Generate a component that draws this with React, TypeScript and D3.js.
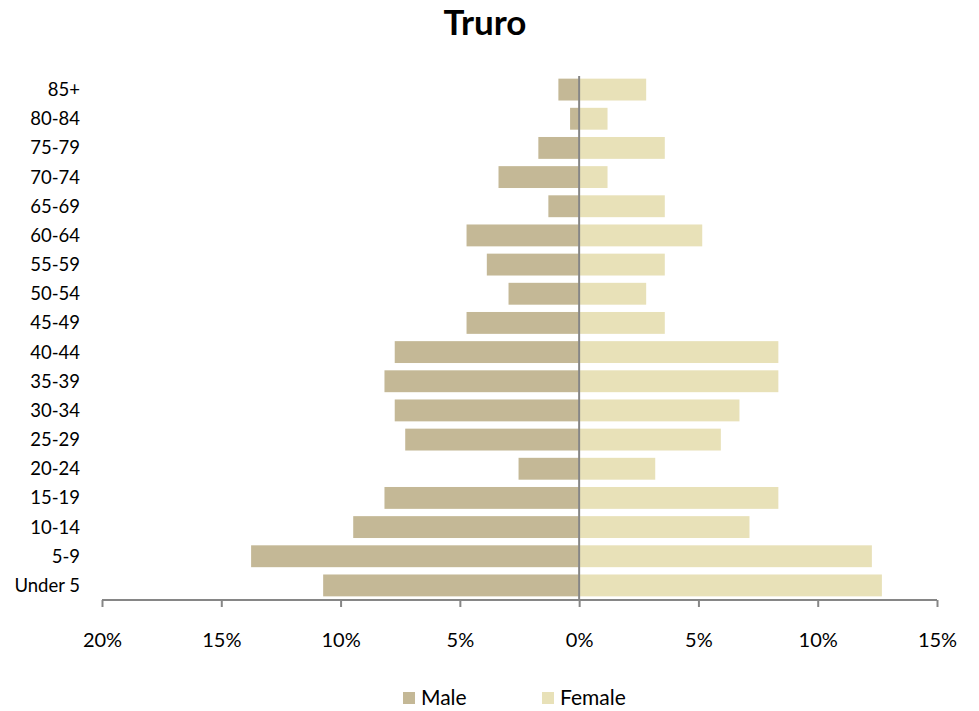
import React, { useRef, useEffect } from 'react';
import * as d3 from 'd3';

const ageGroups = [
  '85+', '80-84', '75-79', '70-74', '65-69', '60-64', '55-59', '50-54', '45-49',
  '40-44', '35-39', '30-34', '25-29', '20-24', '15-19', '10-14', '5-9', 'Under 5',
];
const male = [0.87, 0.38, 1.71, 3.38, 1.29, 4.72, 3.87, 2.96, 4.72, 7.73, 8.16, 7.73, 7.29, 2.54, 8.16, 9.47, 13.75, 10.73];
const female = [2.81, 1.19, 3.59, 1.19, 3.59, 5.16, 3.59, 2.81, 3.59, 8.35, 8.35, 6.72, 5.94, 3.19, 8.35, 7.14, 12.27, 12.69];
const xTicks = [-20, -15, -10, -5, 0, 5, 10, 15];

const maleColor = '#c4b896';
const femaleColor = '#e8e1b8';
const axisColor = '#868686';
const font = 'Lato, "Open Sans", sans-serif';

export default function App() {
  const ref = useRef<SVGSVGElement>(null);

  useEffect(() => {
    const width = 979;
    const height = 711;
    const svg = d3.select(ref.current);
    svg.selectAll('*').remove();

    const x = d3.scaleLinear().domain([-20, 15]).range([102, 937]);
    const y = d3.scaleBand().domain(ageGroups).range([75, 600]).paddingInner(0.25).paddingOuter(0.125);

    svg.attr('width', width).attr('height', height);

    // Title
    svg.append('text')
      .attr('x', 485)
      .attr('y', 35)
      .attr('text-anchor', 'middle')
      .attr('font-family', font)
      .attr('font-weight', 'bold')
      .attr('font-size', 35)
      .text('Truro');

    const rows = ageGroups.map((g, i) => ({ g, m: male[i], f: female[i] }));

    // Male bars
    svg.selectAll('.male')
      .data(rows)
      .join('rect')
      .attr('class', 'male')
      .attr('x', d => x(-d.m))
      .attr('y', d => y(d.g)!)
      .attr('width', d => x(0) - x(-d.m))
      .attr('height', y.bandwidth())
      .attr('fill', maleColor);

    // Female bars
    svg.selectAll('.female')
      .data(rows)
      .join('rect')
      .attr('class', 'female')
      .attr('x', x(0))
      .attr('y', d => y(d.g)!)
      .attr('width', d => x(d.f) - x(0))
      .attr('height', y.bandwidth())
      .attr('fill', femaleColor);

    // X axis
    const xAxis = svg.append('g')
      .attr('transform', 'translate(0,600)')
      .call(
        d3.axisBottom(x)
          .tickValues(xTicks)
          .tickSize(7)
          .tickPadding(26)
          .tickFormat(d => `${Math.abs(+d)}%`)
      );
    xAxis.select('.domain').attr('stroke', axisColor).attr('stroke-width', 2).attr('d', `M${x(-20)},0H${x(15)}`);
    xAxis.selectAll('.tick line').attr('stroke', axisColor).attr('stroke-width', 2);
    xAxis.selectAll('.tick text')
      .attr('font-family', font)
      .attr('font-size', 20)
      .attr('fill', '#000');

    // Vertical zero line
    svg.append('line')
      .attr('x1', x(0)).attr('x2', x(0))
      .attr('y1', 76).attr('y2', 600)
      .attr('stroke', axisColor)
      .attr('stroke-width', 2);

    // Y labels
    svg.selectAll('.ylab')
      .data(ageGroups)
      .join('text')
      .attr('class', 'ylab')
      .attr('x', 80)
      .attr('y', d => y(d)! + y.bandwidth() / 2)
      .attr('dy', '0.35em')
      .attr('text-anchor', 'end')
      .attr('font-family', font)
      .attr('font-size', 18.5)
      .text(d => d);

    // Legend
    const legend = [
      { label: 'Male', color: maleColor, x: 403 },
      { label: 'Female', color: femaleColor, x: 542 },
    ];
    const lg = svg.selectAll('.legend')
      .data(legend)
      .join('g')
      .attr('class', 'legend')
      .attr('transform', d => `translate(${d.x},692)`);
    lg.append('rect').attr('width', 12).attr('height', 12).attr('fill', d => d.color);
    lg.append('text')
      .attr('x', 18)
      .attr('y', 6)
      .attr('dy', '0.35em')
      .attr('font-family', font)
      .attr('font-size', 21)
      .text(d => d.label);
  }, []);

  return <svg ref={ref} style={{ position: 'absolute', left: 0, top: 0, display: 'block' }} />;
}
